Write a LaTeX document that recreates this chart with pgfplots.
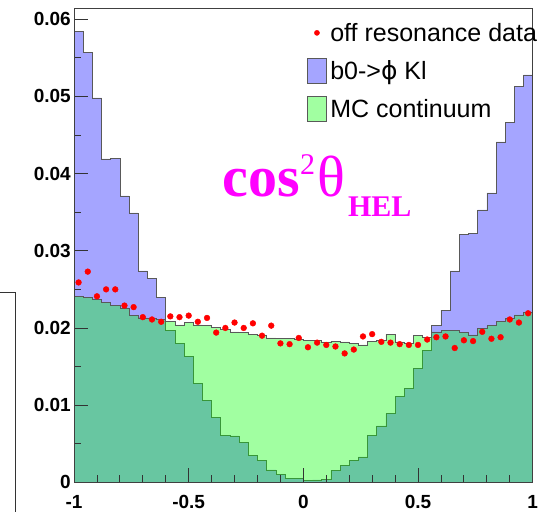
\documentclass[border=0pt]{standalone}
\usepackage{pgfplots}
\pgfplotsset{compat=1.18}
\usepackage{pgfplotstable}
\usepackage{fontspec}
\setmainfont{Liberation Sans}
\newfontfamily\seriffont{Liberation Serif}
\newfontfamily\dejavu{DejaVu Sans}
\definecolor{mag}{RGB}{255,0,255}
\definecolor{sigblue}{RGB}{165,165,255}
\definecolor{bkggreen}{RGB}{0,255,0}
\definecolor{datared}{RGB}{255,0,0}

\pgfplotstableread{
x sig bkg
-1.00 0.0584 0.0241
-0.96 0.0557 0.0240
-0.92 0.0498 0.0237
-0.88 0.0419 0.0233
-0.84 0.0420 0.0229
-0.80 0.0371 0.0226
-0.76 0.0349 0.0216
-0.72 0.0274 0.0213
-0.68 0.0264 0.0212
-0.64 0.0240 0.0211
-0.60 0.0197 0.0209
-0.56 0.0180 0.0204
-0.52 0.0163 0.0207
-0.48 0.0128 0.0204
-0.44 0.0106 0.0203
-0.40 0.0084 0.0201
-0.36 0.0061 0.0198
-0.32 0.0060 0.0195
-0.28 0.0052 0.0194
-0.24 0.0035 0.0192
-0.20 0.0028 0.0191
-0.16 0.0016 0.0187
-0.12 0.0010 0.0186
-0.08 0.0005 0.0186
-0.04 0.0005 0.0185
0.00 0.0002 0.0184
0.04 0.0003 0.0184
0.08 0.0004 0.0182
0.12 0.0015 0.0183
0.16 0.0022 0.0182
0.20 0.0028 0.0180
0.24 0.0033 0.0178
0.28 0.0061 0.0183
0.32 0.0073 0.0184
0.36 0.0089 0.0192
0.40 0.0111 0.0182
0.44 0.0122 0.0180
0.48 0.0148 0.0190
0.52 0.0171 0.0188
0.56 0.0203 0.0195
0.60 0.0223 0.0197
0.64 0.0274 0.0197
0.68 0.0321 0.0194
0.72 0.0323 0.0191
0.76 0.0353 0.0199
0.80 0.0375 0.0203
0.84 0.0441 0.0209
0.88 0.0466 0.0212
0.92 0.0513 0.0217
0.96 0.0528 0.0220
1.00 0.0528 0.0220
}\hist

\pgfplotstableread{
x y
-0.98 0.0259
-0.94 0.0273
-0.90 0.0241
-0.86 0.0250
-0.82 0.0250
-0.78 0.0229
-0.74 0.0227
-0.70 0.0214
-0.66 0.0211
-0.62 0.0208
-0.58 0.0215
-0.54 0.0214
-0.50 0.0216
-0.46 0.0208
-0.42 0.0213
-0.38 0.0194
-0.34 0.0200
-0.30 0.0207
-0.26 0.0200
-0.22 0.0206
-0.18 0.0190
-0.14 0.0203
-0.10 0.0180
-0.06 0.0179
-0.02 0.0187
0.02 0.0175
0.06 0.0181
0.10 0.0178
0.14 0.0176
0.18 0.0167
0.22 0.0172
0.26 0.0189
0.30 0.0192
0.34 0.0182
0.38 0.0181
0.42 0.0179
0.46 0.0178
0.50 0.0178
0.54 0.0185
0.58 0.0188
0.62 0.0189
0.66 0.0174
0.70 0.0184
0.74 0.0183
0.78 0.0195
0.82 0.0186
0.86 0.0188
0.90 0.0211
0.94 0.0207
0.98 0.0219
}\offres

\tikzset{
  bluehist/.style={fill=sigblue, draw=black!65, line width=0.6bp},
  greenhist/.style={fill=bkggreen, fill opacity=0.37, draw=black!65, draw opacity=1, line width=0.6bp},
}

\begin{document}
\begin{tikzpicture}
\begin{axis}[
  at={(74bp,29.7bp)}, anchor=south west,
  scale only axis, width=458.7bp, height=474.3bp,
  xmin=-1, xmax=1, ymin=0, ymax=0.06146,
  axis on top,
  scaled y ticks=false, scaled x ticks=false,
  xtick={-1,-0.5,0,0.5,1}, xticklabels={-1,-0.5,0,0.5,1},
  ytick={0,0.01,0.02,0.03,0.04,0.05,0.06},
  yticklabels={0,0.01,0.02,0.03,0.04,0.05,0.06},
  minor x tick num=4, minor y tick num=1,
  xtick pos=left, ytick pos=left,
  tick align=inside,
  major tick length=14bp, minor tick length=7bp,
  tick style={black!80, line width=0.8bp},
  axis line style={black!75, line width=0.8bp},
  ticklabel style={font=\fontsize{19bp}{19bp}\selectfont\bfseries},
  xticklabel style={inner sep=0pt, anchor=north, yshift=-12.7bp},
  yticklabel style={inner sep=0pt, anchor=east, xshift=-3bp},
  legend style={at={(axis description cs:0.5086,0.9736)}, anchor=north west,
    draw=none, fill=none, inner sep=0pt, outer sep=0pt,
    row sep=12.8bp, column sep=3.7bp,
    font=\fontsize{25bp}{25bp}\selectfont,
    nodes={inner sep=0pt, text height=18.2bp, text depth=0pt}},
  legend cell align=left,
]
\addlegendimage{legend image code/.code={\path[draw=none,fill=none] (0bp,-12.35bp) rectangle (18.7bp,12.35bp); \fill[datared] (9.35bp,0bp) circle (2.6bp);}}
\addlegendentry{off resonance data}
\addlegendimage{legend image code/.code={\draw[bluehist] (0bp,-12.35bp) rectangle (18.7bp,12.35bp);}}
\addlegendentry{b0->{\dejavu ϕ} Kl}
\addlegendimage{legend image code/.code={\draw[greenhist] (0bp,-12.35bp) rectangle (18.7bp,12.35bp);}}
\addlegendentry{MC continuum}

\addplot[const plot, bluehist, forget plot] table[x=x, y=sig] {\hist} \closedcycle;
\addplot[const plot, greenhist, forget plot] table[x=x, y=bkg] {\hist} \closedcycle;
\addplot[only marks, mark=*, mark size=2.9bp, color=datared, forget plot] table[x=x, y=y] {\offres};

\node[anchor=base west, inner sep=0pt, text=mag] at (axis description cs:0.3242,0.6022)
  {\seriffont\fontsize{58bp}{58bp}\selectfont\bfseries cos\raisebox{21.7bp}{\fontsize{30bp}{30bp}\selectfont\mdseries 2}\kern2bp\mdseries θ\kern3bp\raisebox{-20bp}{\fontsize{30bp}{30bp}\selectfont\bfseries HEL}};
\end{axis}
\draw[black!80, line width=0.8bp] (0bp,219.3bp) -- (15.7bp,219.3bp) -- (15.7bp,0bp);
\pgfresetboundingbox
\path (0bp,0bp) rectangle (550bp,512bp);
\end{tikzpicture}
\end{document}
